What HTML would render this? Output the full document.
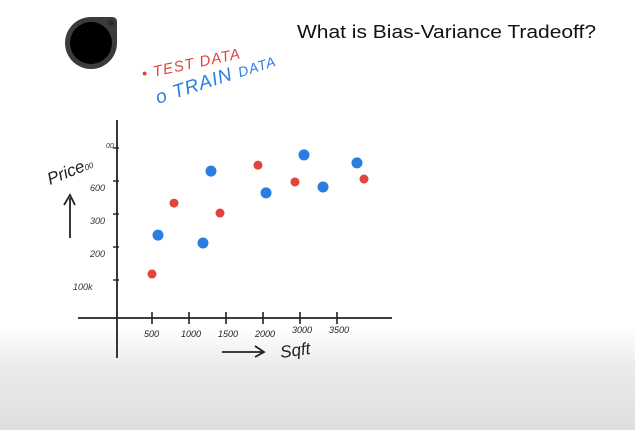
<!DOCTYPE html>
<html><head><meta charset="utf-8"><style>
html,body{margin:0;padding:0}
body{width:635px;height:430px;overflow:hidden;background:#fff;position:relative;font-family:"Liberation Sans",sans-serif}
#bg{position:absolute;left:0;top:0;width:635px;height:430px;background:linear-gradient(#fff 0,#fff 328px,#ececec 365px,#dedede 430px)}
svg{position:absolute;left:0;top:0}
</style></head><body>
<div id="bg"></div>
<svg width="635" height="430">
<g>
<path d="M91,17 L112,17 Q117,17 117,22 L117,42 A26,26 0 1 1 91,17 Z" fill="#3b3b3b"/>
<circle cx="91" cy="43" r="21" fill="#000"/>
<circle cx="111" cy="23" r="3" fill="#2a2a2a"/>
</g>
<text x="297" y="38" font-size="18.5" fill="#111" textLength="299" lengthAdjust="spacingAndGlyphs">What is Bias-Variance Tradeoff?</text>
<g>
<text x="143" y="79" font-size="15" fill="#e0443a" font-style="italic" transform="rotate(-12 143 79)" letter-spacing="1">• TEST DATA</text>
<text x="158" y="104" font-size="19" fill="#2a7de1" font-style="italic" transform="rotate(-18 158 104)" letter-spacing="1">o TRAIN <tspan font-size="14">DATA</tspan></text>
</g>
<g id="axes" stroke="#222" stroke-width="1.8" fill="none">
<line x1="117" y1="120" x2="117" y2="358"/>
<line x1="78" y1="318" x2="392" y2="318"/>
<line x1="70" y1="238" x2="70" y2="198"/>
<path d="M64,205 L70,195 L75,205"/>
<line x1="222" y1="352" x2="262" y2="352"/>
<path d="M255,346 L264,352 L255,357"/>
</g>
<text x="50" y="185" font-size="17" fill="#222" font-style="italic" transform="rotate(-22 50 185)">Price<tspan font-size="8">00</tspan></text>
<text x="281" y="358" font-size="17" fill="#222" font-style="italic" transform="rotate(-8 281 358)">Sqft</text>
<g id="ticks"></g>
<g id="marks"></g>
</svg>
<script>
const xTicks=[500,1000,1500,2000,2500,3000];
const xTickLabels=["500","1000","1500","2000","3000","3500"];
const yTicks=[100,200,300,400,500];
const yTickLabels=["100k","200","300","600","00"];
const testX=[500,797,1419,1932,2432,3365];
const testY=[118,333,303,448,397,406];
const trainX=[581,1189,1297,2041,2554,2811,3270];
const trainY=[236,212,430,364,479,382,455];
const NS="http://www.w3.org/2000/svg";
function sx(v){return 115+v*0.074;}
function sy(v){return 313-v*0.33;}
const tg=document.getElementById('ticks');
xTicks.forEach((t,i)=>{
 const l=document.createElementNS(NS,'line');
 l.setAttribute('x1',sx(t));l.setAttribute('x2',sx(t));l.setAttribute('y1',312);l.setAttribute('y2',324);
 l.setAttribute('stroke','#222');l.setAttribute('stroke-width','1.6');
 
 
 tg.appendChild(l);
 const tx=document.createElementNS(NS,'text');
 tx.setAttribute('x',sx(t)-8);tx.setAttribute('y',i>=4?333:337);
 tx.setAttribute('font-size','9');tx.setAttribute('fill','#222');tx.setAttribute('font-style','italic');
 tx.textContent=xTickLabels[i];
 
 
 tg.appendChild(tx);
});
yTicks.forEach((t,i)=>{
 const l=document.createElementNS(NS,'line');
 l.setAttribute('x1',113);l.setAttribute('x2',119);l.setAttribute('y1',sy(t));l.setAttribute('y2',sy(t));
 l.setAttribute('stroke','#222');l.setAttribute('stroke-width','1.4');
 
 
 tg.appendChild(l);
 const tx=document.createElementNS(NS,'text');
 tx.setAttribute('x',i==0?73:(i==4?106:90));tx.setAttribute('y',sy(t)+(i==4?0:10));
 tx.setAttribute('font-size',i==4?'7':'9');tx.setAttribute('fill','#333');tx.setAttribute('font-style','italic');
 tx.textContent=yTickLabels[i];
 
 
 tg.appendChild(tx);
});
const mg=document.getElementById('marks');
testX.forEach((v,i)=>{
 const c=document.createElementNS(NS,'circle');
 c.setAttribute('cx',sx(v));c.setAttribute('cy',sy(testY[i]));c.setAttribute('r',4.5);c.setAttribute('fill','#e0443a');
 
 
 mg.appendChild(c);
});
trainX.forEach((v,i)=>{
 const c=document.createElementNS(NS,'circle');
 c.setAttribute('cx',sx(v));c.setAttribute('cy',sy(trainY[i]));c.setAttribute('r',5.5);c.setAttribute('fill','#2a7de1');
 
 
 mg.appendChild(c);
});
</script>
</body></html>
